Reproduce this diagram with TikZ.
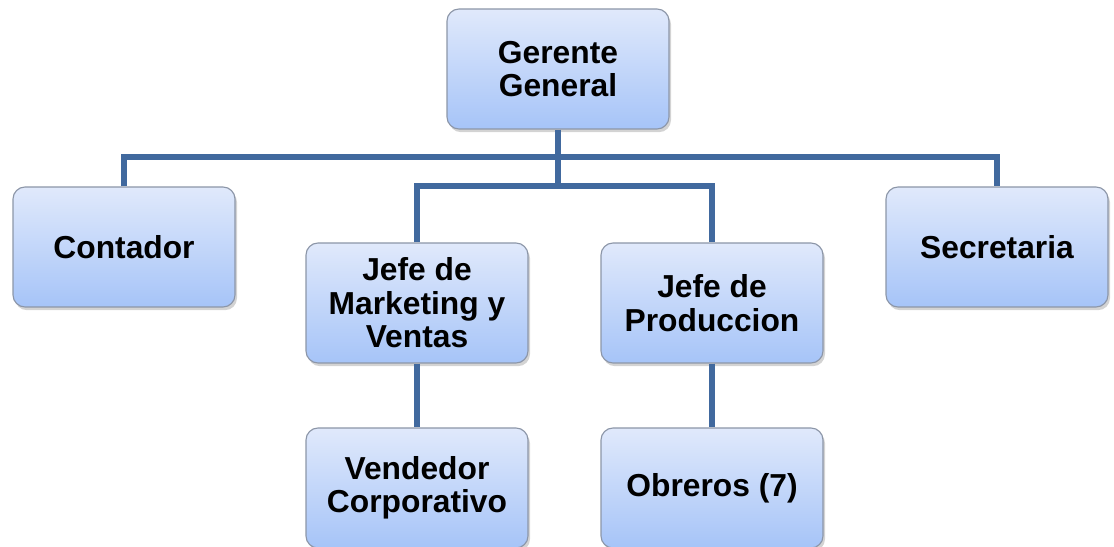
\documentclass[tikz,border=0pt]{standalone}
\usepackage{fontspec}
\setmainfont{Liberation Sans}
\usetikzlibrary{positioning, shadows}
\definecolor{box-top}{RGB}{224,233,251}
\definecolor{box-bottom}{RGB}{166,196,248}
\definecolor{box-edge}{RGB}{140,150,168}
\definecolor{line-blue}{RGB}{65,105,158}

\begin{document}
\begin{tikzpicture}
    [box/.style = {rectangle, draw=box-edge, line width=0.8pt, align=center,
            minimum width=5.55cm, minimum height=3cm, inner sep=0pt,
            top color=box-top, bottom color=box-bottom, rounded corners=0.3cm,
            drop shadow={shadow xshift=0.05cm, shadow yshift=-0.08cm, opacity=0.35},
            font=\bfseries\fontsize{22.6}{23.8}\selectfont},
    conn/.style = {draw=line-blue, line width=3.6pt},
    ]

\useasboundingbox (0, 0) rectangle (27.85, 13.65);

\node[box] (gg) at (13.95, 11.925) {Gerente\\General};
\node[box] (cont) at (3.1, 7.475) {Contador};
\node[box] (mkt) at (10.425, 6.075) {Jefe de\\Marketing y\\Ventas};
\node[box] (prod) at (17.8, 6.075) {Jefe de\\Produccion};
\node[box] (sec) at (24.925, 7.475) {Secretaria};
\node[box] (vend) at (10.425, 1.45) {Vendedor\\Corporativo};
\node[box] (obr) at (17.8, 1.45) {Obreros (7)};

\coordinate (busA) at (13.95, 9.725);
\coordinate (busB) at (13.95, 9.0);

\draw[conn] (gg.south) -- (busB);
\draw[conn] (cont.north) |- (busA) -| (sec.north);
\draw[conn] (mkt.north) |- (busB) -| (prod.north);
\draw[conn] (mkt.south) -- (vend.north);
\draw[conn] (prod.south) -- (obr.north);

\end{tikzpicture}
\end{document}
